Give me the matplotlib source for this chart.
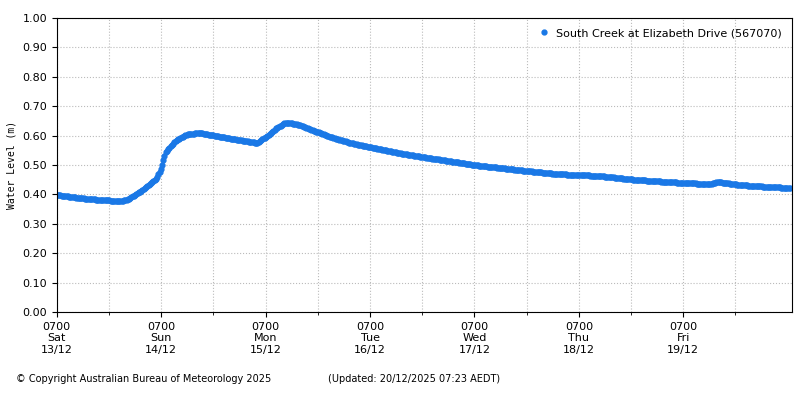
import matplotlib.pyplot as plt
import numpy as np

# hours since 0700 Sat 13/12
hours = [0, 5, 10, 14, 16, 19, 21, 23, 24, 25, 27.5, 30, 33, 38, 43, 46, 48, 50.5, 52.5,
         55, 58.5, 63, 67.5, 72, 78.5, 85.5, 96, 106, 115, 124.5, 133.5, 144, 150, 152, 157, 164, 168.5]
level = [0.398, 0.388, 0.381, 0.378, 0.380, 0.408, 0.432, 0.456, 0.490, 0.544, 0.585, 0.605,
         0.609, 0.595, 0.582, 0.575, 0.595, 0.626, 0.643, 0.640, 0.620, 0.595, 0.575, 0.561,
         0.541, 0.524, 0.500, 0.483, 0.469, 0.463, 0.449, 0.439, 0.435, 0.442, 0.432, 0.425, 0.422]
tick_labels = ["0700\nSat\n13/12", "0700\nSun\n14/12", "0700\nMon\n15/12", "0700\nTue\n16/12",
               "0700\nWed\n17/12", "0700\nThu\n18/12", "0700\nFri\n19/12"]

plt.rcParams['font.size'] = 8
fig = plt.figure(figsize=(8, 4), dpi=100)
ax = fig.add_axes([0.071, 0.22, 0.919, 0.735])

t = np.linspace(hours[0], hours[-1], 600)
v = np.interp(t, hours, level)
ax.plot(t, v, color='#1a78e6', lw=0, marker='o', ms=3.5, label='South Creek at Elizabeth Drive (567070)')

ax.set_xlim(0, 169)
ax.set_ylim(0, 1)
ax.set_xticks([24 * i for i in range(7)])
ax.set_xticklabels(tick_labels)
ax.set_xticks([24 * i + 12 for i in range(7)], minor=True)
ax.set_yticks(np.arange(0, 1.01, 0.1))
ax.set_yticklabels(["%.2f" % y for y in np.arange(0, 1.01, 0.1)])
ax.grid(True, which='both', color='#bbbbbb', linestyle=':', linewidth=0.8)
ax.set_ylabel("Water Level (m)", family='monospace', fontsize=7)
ax.legend(loc='upper right', frameon=False, handletextpad=0.1, markerscale=1)

fig.text(0.02, 0.045, "© Copyright Australian Bureau of Meteorology 2025", fontsize=7)
fig.text(0.41, 0.045, "(Updated: 20/12/2025 07:23 AEDT)", fontsize=7)
fig.savefig("out.png", dpi=100)
